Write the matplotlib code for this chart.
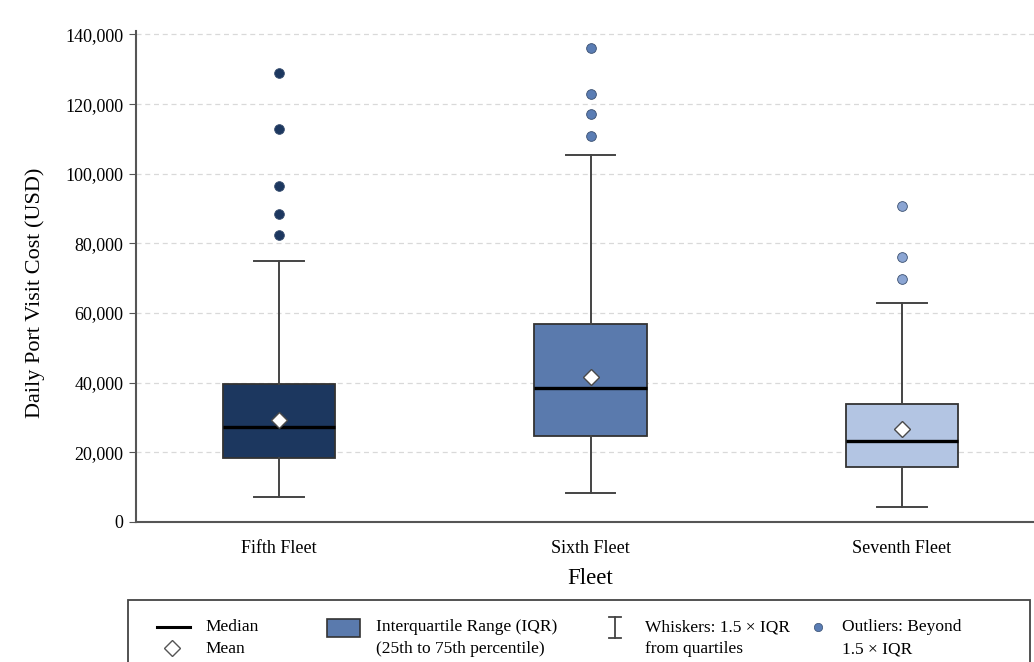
import matplotlib
matplotlib.use("Agg")
import matplotlib.pyplot as plt
from matplotlib.patches import Rectangle
from matplotlib.lines import Line2D

# data
fleets = ['Fifth Fleet', 'Sixth Fleet', 'Seventh Fleet']
q1 = [18300, 24700, 15900]
medians = [27200, 38500, 23300]
q3 = [39500, 56800, 34000]
whis_lo = [7300, 8200, 4200]
whis_hi = [75000, 105300, 63000]
means = [29200, 41500, 26700]
outliers = [[129000, 113000, 96500, 88500, 82300],
            [136000, 122800, 117300, 110800],
            [90800, 76200, 69700]]

box_colors = ['#1c375f', '#5a7aad', '#b3c5e3']
flier_colors = ['#1c375f', '#5a7db4', '#8ba5d3']

plt.rcParams['font.family'] = ['Liberation Serif', 'DejaVu Serif']

W, H = 1034, 662
fig = plt.figure(figsize=(W / 100, H / 100), dpi=100)
fig.patch.set_facecolor('white')

# axes goes past the right edge (reference is cropped there)
ax = fig.add_axes([136 / W, 1 - 522 / H, 909 / W, 491 / H])

stats = []
for i in range(len(fleets)):
    stats.append({'label': fleets[i], 'q1': q1[i], 'med': medians[i], 'q3': q3[i],
                  'whislo': whis_lo[i], 'whishi': whis_hi[i], 'mean': means[i],
                  'fliers': outliers[i]})

bp = ax.bxp(stats, positions=range(len(fleets)), widths=0.36, capwidths=0.16,
            patch_artist=True, showmeans=True, showfliers=True,
            boxprops=dict(edgecolor='#333333', linewidth=1.3),
            whiskerprops=dict(color='#444444', linewidth=1.4),
            capprops=dict(color='#444444', linewidth=1.4),
            medianprops=dict(color='black', linewidth=2.4),
            meanprops=dict(marker='D', markerfacecolor='white', markeredgecolor='#4a4a4a',
                           markersize=8.5, markeredgewidth=1.0))

for patch, c in zip(bp['boxes'], box_colors):
    patch.set_facecolor(c)
for fl, c in zip(bp['fliers'], flier_colors):
    fl.set(marker='o', markerfacecolor=c, markeredgecolor='#3a4f70', markeredgewidth=0.6,
           markersize=7)

ax.set_xlim(-0.46, 2.46)
ax.set_ylim(0, 141000)
ax.set_yticks(range(0, 140001, 20000))
ax.yaxis.set_major_formatter(matplotlib.ticker.FuncFormatter(lambda v, p: f'{int(v):,}'))
ax.grid(axis='y', linestyle=(0, (4, 3)), color='#d9d9d9', linewidth=0.9)
ax.set_axisbelow(True)

for s in ['top', 'right']:
    ax.spines[s].set_visible(False)
for s in ['left', 'bottom']:
    ax.spines[s].set_color('#555555')
    ax.spines[s].set_linewidth(1.5)

ax.tick_params(axis='y', length=5, color='#555555', labelsize=13, pad=4)
ax.tick_params(axis='x', length=0, labelsize=13, pad=13)
ax.set_ylabel('Daily Port Visit Cost (USD)', fontsize=16)
ax.yaxis.set_label_coords(-0.100, 0.466)
ax.set_xlabel('Fleet', fontsize=16.5, labelpad=8)

# legend box drawn in pixel coordinates
def px(x, y):
    return x / W, 1 - y / H

fig.patches.append(Rectangle(px(128, 672), 902 / W, 72 / H, transform=fig.transFigure,
                             fill=False, edgecolor='#444444', linewidth=1.3))

fig.lines.append(Line2D([157 / W, 190 / W], [px(0, 627)[1]] * 2, transform=fig.transFigure,
                        color='black', linewidth=2.2))
fig.lines.append(Line2D([172 / W], [px(0, 648)[1]], transform=fig.transFigure,
                        marker='D', markersize=8, markerfacecolor='white',
                        markeredgecolor='#555555', linestyle='none'))
fig.patches.append(Rectangle(px(327, 637), 33 / W, 18 / H, transform=fig.transFigure,
                             facecolor='#5a7aad', edgecolor='#333333', linewidth=1.2))
fig.lines.append(Line2D([615 / W] * 2, [px(0, 617)[1], px(0, 638)[1]],
                        transform=fig.transFigure, color='#444444', linewidth=1.3))
for yy in [617, 638]:
    fig.lines.append(Line2D([609 / W, 621 / W], [px(0, yy)[1]] * 2,
                            transform=fig.transFigure, color='#444444', linewidth=1.3))
fig.lines.append(Line2D([818 / W], [px(0, 627)[1]], transform=fig.transFigure,
                        marker='o', markersize=6, markerfacecolor='#5a7db4',
                        markeredgecolor='#3a4f70', markeredgewidth=0.5, linestyle='none'))

legend_texts = [(205, 627, 'Median'), (205, 649, 'Mean'),
                (376, 627, 'Interquartile Range (IQR)'), (376, 649, '(25th to 75th percentile)'),
                (645, 627, 'Whiskers: 1.5 × IQR'), (645, 649, 'from quartiles'),
                (842, 627, 'Outliers: Beyond'), (842, 649, '1.5 × IQR')]
for x, y, t in legend_texts:
    fig.text(*px(x, y), t, fontsize=12.5, va='center', ha='left')

fig.savefig('out.png', dpi=100)
